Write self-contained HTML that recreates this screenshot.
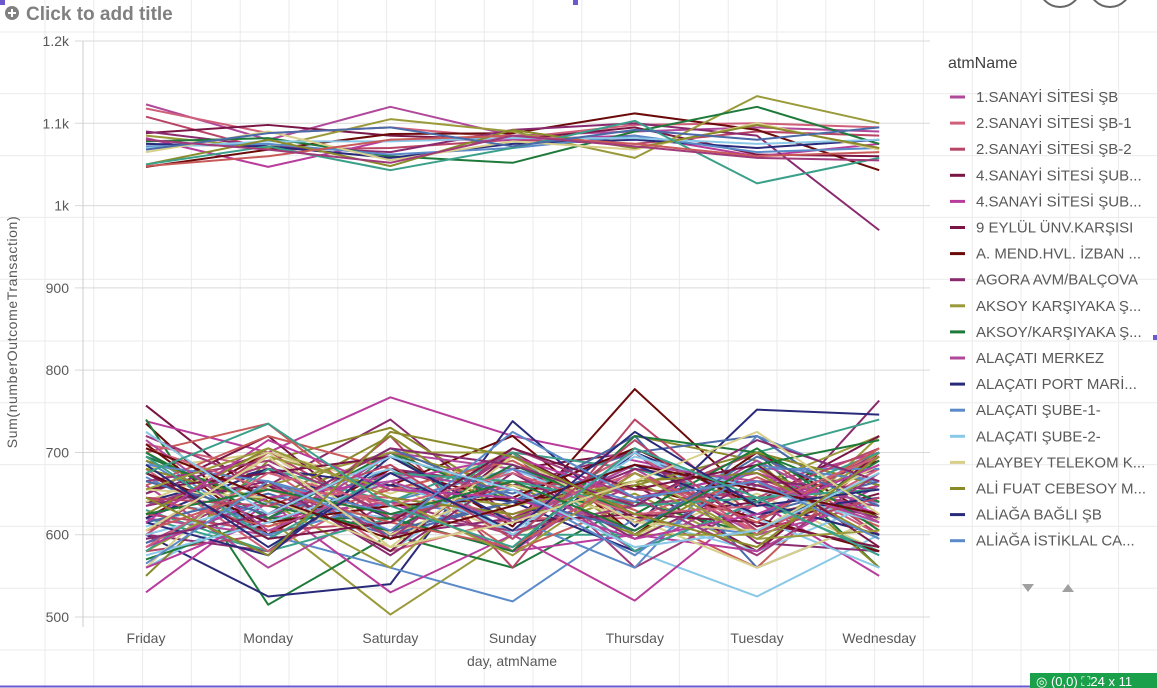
<!DOCTYPE html>
<html><head><meta charset="utf-8"><style>
body{margin:0;width:1157px;height:688px;overflow:hidden;background:#fff;font-family:"Liberation Sans","DejaVu Sans",sans-serif;position:relative}
svg{position:absolute;left:0;top:0}
</style></head><body>
<svg id="c" width="1157" height="688"></svg>
<script>
const days=["Friday","Monday","Saturday","Sunday","Thursday","Tuesday","Wednesday"];
const yTicks=[500,600,700,800,900,1000,1100,1200];
const yTickLabels=["500","600","700","800","900","1k","1.1k","1.2k"];
const legendNames=["1.SANAYİ SİTESİ ŞB","2.SANAYİ SİTESİ ŞB-1","2.SANAYİ SİTESİ ŞB-2","4.SANAYİ SİTESİ ŞUB...","4.SANAYİ SİTESİ ŞUB...","9 EYLÜL ÜNV.KARŞISI","A. MEND.HVL. İZBAN ...","AGORA AVM/BALÇOVA","AKSOY KARŞIYAKA Ş...","AKSOY/KARŞIYAKA Ş...","ALAÇATI MERKEZ","ALAÇATI PORT MARİ...","ALAÇATI ŞUBE-1-","ALAÇATI ŞUBE-2-","ALAYBEY TELEKOM K...","ALİ FUAT CEBESOY M...","ALİAĞA BAĞLI ŞB","ALİAĞA İSTİKLAL CA..."];
const legendColors=["#b0499a","#d0607a","#b84466","#7a1646","#b83c9c","#7a1646","#6b0a0a","#8a2a6e","#9a9a3a","#1e7a3a","#b0499a","#2a2a7a","#5a8ac8","#8ac8e8","#d8d08a","#8a8a2a","#2a2a7a","#5a8ac8"];
const upperSeries=[
[1123,1080,1120,1085,1090,1095,1090],
[1118,1088,1095,1082,1098,1100,1095],
[1108,1068,1070,1080,1075,1090,1085],
[1088,1098,1085,1080,1095,1062,1060],
[1082,1047,1080,1080,1085,1060,1075],
[1047,1068,1087,1088,1112,1092,1043],
[1090,1072,1065,1092,1100,1085,970],
[1085,1070,1105,1090,1058,1133,1100],
[1078,1082,1060,1052,1090,1120,1075],
[1075,1072,1058,1075,1080,1070,1080],
[1072,1075,1062,1070,1085,1065,1070],
[1070,1078,1078,1082,1082,1075,1080],
[1065,1090,1055,1078,1068,1100,1068],
[1050,1080,1048,1092,1070,1098,1070],
[1050,1072,1043,1070,1103,1027,1058],
[1048,1060,1080,1085,1075,1060,1065],
[1068,1088,1095,1072,1092,1080,1095],
[1080,1068,1052,1085,1072,1058,1055]];
const lowerSeries=[
[757,640,620,680,700,610,650],[738,700,767,720,690,660,700],[735,600,700,610,777,640,690],
[720,660,740,620,700,600,763],[700,620,503,600,650,580,720],[740,515,600,560,640,700,560],
[600,525,540,738,610,752,746],[690,600,560,519,620,600,640],[560,640,620,680,580,525,600],
[680,700,650,700,600,650,580],[550,690,730,640,720,690,560],[620,580,700,600,600,700,740],
[700,735,620,680,630,560,700],[640,620,680,650,700,720,620],[590,660,600,700,560,640,680],
[660,560,640,580,680,600,640],[710,680,580,620,620,680,600],[580,600,720,560,740,620,660],
[650,720,600,640,660,580,700],[530,640,530,600,520,640,550],[620,700,660,720,600,700,620],
[600,580,680,660,700,590,580],[680,640,560,700,580,660,720],[570,620,700,640,640,600,690],
[640,680,620,580,700,640,600],[700,600,640,620,560,720,660],[610,660,580,680,620,580,640],
[560,700,660,600,660,620,700],[690,640,700,660,600,680,620],[630,580,620,700,680,640,580],
[660,720,680,580,640,700,660],[590,640,600,640,720,560,620],[720,660,640,600,660,620,700],
[620,600,700,680,580,660,640],[680,580,660,620,700,600,680],[600,700,620,660,640,700,600],
[640,660,580,700,620,640,720],[560,620,640,580,600,580,660],[710,600,680,640,660,620,580],
[650,700,600,620,680,660,620],[580,660,700,700,600,600,700],[700,620,620,580,720,700,640],
[620,680,660,640,580,640,600],[670,600,640,680,640,680,680],[600,640,680,600,700,620,560],
[640,700,600,660,620,560,620],[680,640,720,620,660,700,660],[580,680,640,700,580,640,700],
[645,610,655,690,615,670,610],[615,650,605,640,685,625,665],[665,690,625,605,635,655,635],
[595,625,675,655,605,690,615],[705,655,645,625,675,605,645],[625,605,615,665,655,645,705],
[655,675,695,615,625,615,585],[585,645,665,695,645,675,625],[675,615,635,645,705,635,695],
[635,665,575,675,595,665,655],[605,695,655,635,665,595,675],[695,635,605,685,625,705,605],
[615,575,695,615,685,625,645],[685,665,625,655,575,685,665],[575,615,665,605,695,655,615],
[655,645,585,695,615,605,685],[625,705,645,625,665,675,595],[695,595,675,665,635,645,655],
[605,655,615,585,675,615,705],[665,625,705,645,605,695,635],[635,685,595,705,645,575,675],
[715,605,665,615,685,665,615],[585,675,635,675,625,635,695],[645,635,685,595,715,605,645],
[675,595,615,705,655,685,585],[615,715,655,645,595,625,685],[705,645,595,635,685,655,625],
[595,625,705,685,635,715,665],[655,705,645,575,675,595,605],[625,655,625,665,605,685,715],
[685,585,675,605,725,635,655],[565,665,605,725,645,665,595],[725,625,695,655,585,605,675],
[605,695,585,615,665,725,625],[645,575,725,695,625,585,695],[675,735,635,585,705,645,575]];
const palette=["#b0499a","#d0607a","#b84466","#7a1646","#b83c9c","#6b0a0a","#8a2a6e","#9a9a3a","#1e7a3a","#2a2a7a","#5a8ac8","#8ac8e8","#d8d08a","#8a8a2a","#3aa08a","#c85a5a","#4a6aa8","#a03a7a"];
const NS="http://www.w3.org/2000/svg";
const svg=document.getElementById('c');
const xS=i=>146+i*122.2;
const yS=v=>41+(1200-v)*0.8229;
function mk(t,a){const e=document.createElementNS(NS,t);for(const k in a)e.setAttribute(k,a[k]);svg.appendChild(e);return e;}
for(let x=45;x<1157;x+=48.8){const l=mk('line',{x1:x,y1:0,x2:x,y2:688,stroke:'#ebebeb','stroke-width':1});

}
for(let y=32;y<688;y+=61.8){const l=mk('line',{x1:0,y1:y,x2:1157,y2:y,stroke:'#ebebeb','stroke-width':1});

}
yTicks.forEach((v,i)=>{const y=yS(v);
const g=mk('line',{x1:75,y1:y,x2:930,y2:y,stroke:'#d9d9d9','stroke-width':1});


const t=mk('text',{x:69,y:y+5,'text-anchor':'end','font-size':14,fill:'#595959'});t.textContent=yTickLabels[i];

});
const ax=mk('line',{x1:83,y1:41,x2:83,y2:627,stroke:'#cccccc','stroke-width':1});


days.forEach((d,i)=>{const t=mk('text',{x:xS(i),y:643,'text-anchor':'middle','font-size':14,fill:'#595959'});t.textContent=d;

});
function drawSeries(arr,off){arr.forEach((s,k)=>{const p=mk('polyline',{points:s.map((v,i)=>xS(i)+','+yS(v)).join(' '),fill:'none',stroke:palette[(k+off)%palette.length],'stroke-width':2,'stroke-linejoin':'round'});

});}
drawSeries(lowerSeries,3);
drawSeries(upperSeries,0);
const xt=mk('text',{x:512,y:666,'text-anchor':'middle','font-size':14,fill:'#595959'});xt.textContent='day, atmName';


const yt=mk('text',{x:0,y:0,'text-anchor':'middle','font-size':14,'letter-spacing':'0.6',fill:'#595959',transform:'translate(17,332) rotate(-90)'});yt.textContent='Sum(numberOutcomeTransaction)';


const lt=mk('text',{x:948,y:68,'font-size':16,fill:'#404040'});lt.textContent='atmName';


legendNames.forEach((n,i)=>{const y=97+i*26.1;
const sw=mk('line',{x1:950,y1:y,x2:965,y2:y,stroke:legendColors[i],'stroke-width':3});


const t=mk('text',{x:976,y:y+5,'font-size':15,fill:'#595959'});t.textContent=n;

});
const dn=mk('polygon',{points:'1022,584 1034,584 1028,592',fill:'#a0a0a0'});


const up=mk('polygon',{points:'1062,592 1074,592 1068,584',fill:'#a0a0a0'});


const c1=mk('circle',{cx:1060,cy:-14,r:21,fill:'#fff',stroke:'#666','stroke-width':2});


const c2=mk('circle',{cx:1110,cy:-14,r:21,fill:'#fff',stroke:'#666','stroke-width':2});


const pc=mk('circle',{cx:12,cy:13,r:7,fill:'#808080'});


const pl=mk('path',{d:'M8 13h8M12 9v8',stroke:'#fff','stroke-width':2});


const tt=mk('text',{x:26,y:20,'font-size':19,'font-weight':'bold',fill:'#808080'});tt.textContent='Click to add title';


const bl=mk('line',{x1:0,y1:686.5,x2:1157,y2:686.5,stroke:'#6a5acd','stroke-width':2});


[[0,0],[573,0],[1153,335]].forEach(p=>{const r=mk('rect',{x:p[0],y:p[1],width:5,height:5,fill:'#6a5acd'});

});
const badge=mk('rect',{x:1030,y:673,width:127,height:15,fill:'#1aa04a'});


const bt=mk('text',{x:1036,y:686,'font-size':13,fill:'#fff'});bt.textContent='◎ (0,0) ⛶24 x 11';


</script>
</body></html>
